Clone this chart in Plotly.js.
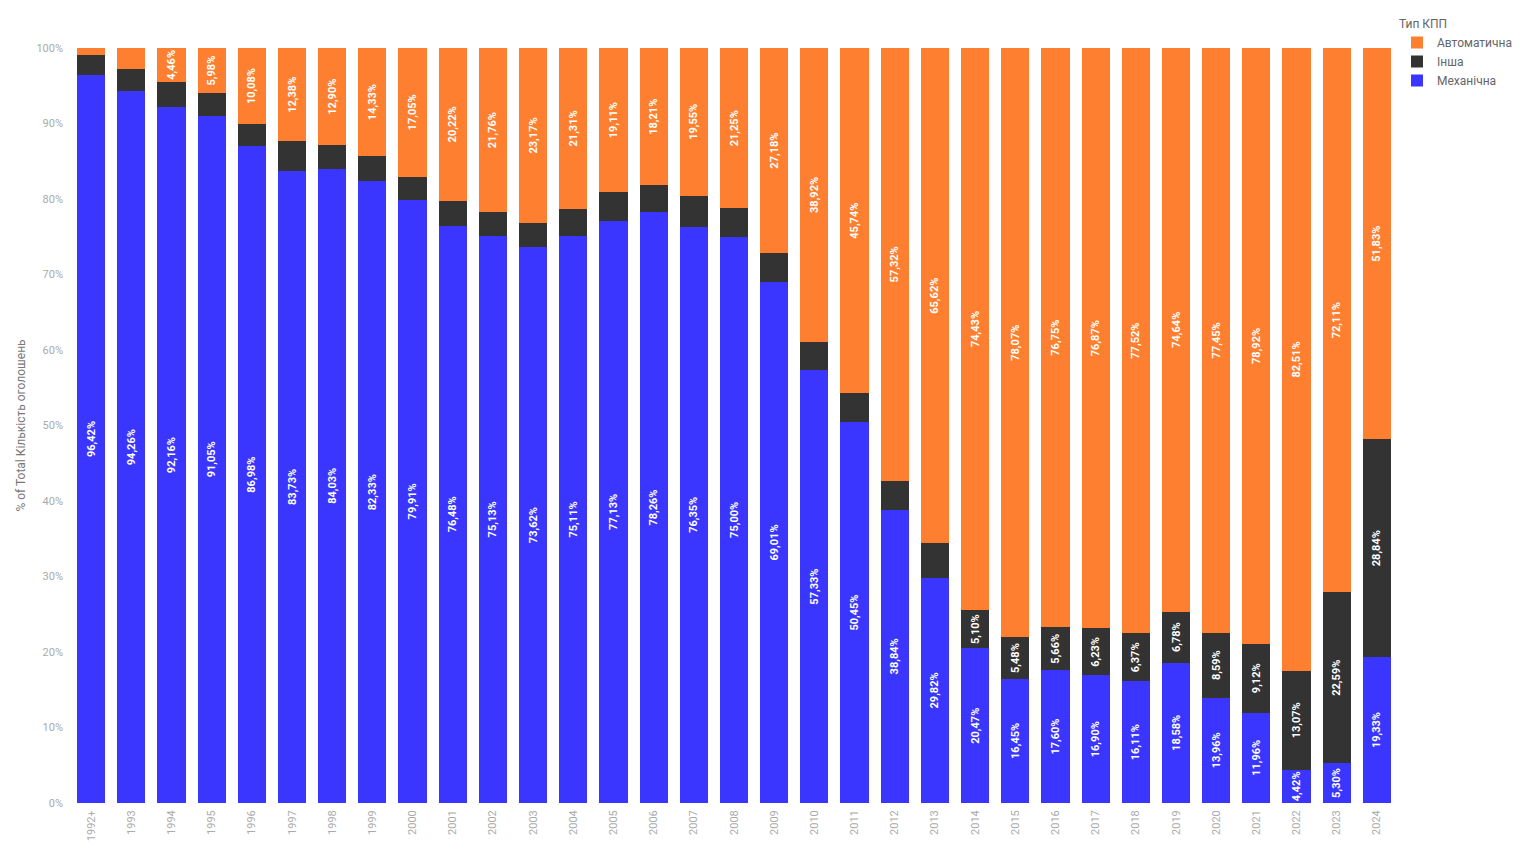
<!DOCTYPE html>
<html>
<head>
<meta charset="utf-8">
<script src="https://cdn.plot.ly/plotly-3.0.1.min.js"></script>
<style>html,body{margin:0;padding:0;background:#fff;}#chart{width:1536px;height:854px;}</style>
</head>
<body>
<div id="chart"></div>
<script>
const years = ["1992+","1993","1994","1995","1996","1997","1998","1999","2000","2001","2002","2003","2004","2005","2006","2007","2008","2009","2010","2011","2012","2013","2014","2015","2016","2017","2018","2019","2020","2021","2022","2023","2024"];
const mechanical = [96.42,94.26,92.16,91.05,86.98,83.73,84.03,82.33,79.91,76.48,75.13,73.62,75.11,77.13,78.26,76.35,75.00,69.01,57.33,50.45,38.84,29.82,20.47,16.45,17.60,16.90,16.11,18.58,13.96,11.96,4.42,5.30,19.33];
const other = [2.68,2.94,3.38,2.97,2.94,3.89,3.07,3.34,3.04,3.30,3.11,3.21,3.58,3.76,3.53,4.10,3.75,3.81,3.75,3.81,3.84,4.56,5.10,5.48,5.66,6.23,6.37,6.78,8.59,9.12,13.07,22.59,28.84];
const automatic = [0.90,2.80,4.46,5.98,10.08,12.38,12.90,14.33,17.05,20.22,21.76,23.17,21.31,19.11,18.21,19.55,21.25,27.18,38.92,45.74,57.32,65.62,74.43,78.07,76.75,76.87,77.52,74.64,77.45,78.92,82.51,72.11,51.83];

function labels(arr, minShown) {
  return arr.map(v => v >= minShown ? v.toFixed(2).replace('.', ',') + '%' : '');
}

const common = {
  type: 'bar',
  x: years,
  textposition: 'inside',
  insidetextanchor: 'middle',
  textangle: -90,
  textfont: {family: 'Roboto, sans-serif', size: 11, color: '#ffffff', weight: 'bold'},
  hoverinfo: 'x+y+name'
};

const data = [
  Object.assign({}, common, {name: 'Механічна', y: mechanical, text: labels(mechanical, 4), marker: {color: '#3a36ff'}}),
  Object.assign({}, common, {name: 'Інша', y: other, text: labels(other, 5), marker: {color: '#333333'}}),
  Object.assign({}, common, {name: 'Автоматична', y: automatic, text: labels(automatic, 4), marker: {color: '#ff7f30'}})
];

const layout = {
  width: 1536, height: 854,
  barmode: 'stack',
  bargap: 0.3,
  paper_bgcolor: '#ffffff',
  plot_bgcolor: '#ffffff',
  font: {family: 'Roboto, sans-serif', color: '#999999', size: 11},
  margin: {l: 71, r: 139, t: 45, b: 51},
  uniformtext: {mode: 'show', minsize: 11},
  xaxis: {
    type: 'category',
    tickangle: -90,
    tickfont: {size: 11, color: '#aaaaaa'},
    ticklabelstandoff: 4,
    showgrid: false, zeroline: false, showline: false,
    automargin: false
  },
  yaxis: {
    range: [0, 100],
    dtick: 10,
    ticksuffix: '%',
    tickfont: {size: 11, color: '#aaaaaa'},
    ticklabelstandoff: 7,
    showgrid: false, zeroline: false, showline: false,
    automargin: false,
    title: {text: '% of Total Кількість оголошень', font: {size: 12, color: '#777777'}, standoff: 8}
  },
  legend: {
    x: 1.0, xanchor: 'left', y: 1.047, yanchor: 'top',
    title: {text: 'Тип КПП', font: {size: 12, color: '#666666'}},
    font: {size: 12, color: '#666666'},
    traceorder: 'reversed',
    itemwidth: 30,
    tracegroupgap: 0
  },
  showlegend: true
};

Plotly.newPlot('chart', data, layout, {displayModeBar: false, staticPlot: true});
</script>
</body>
</html>
